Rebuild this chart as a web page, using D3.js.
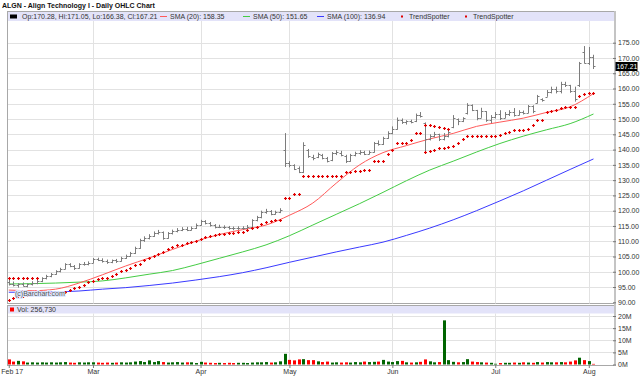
<!DOCTYPE html>
<html><head><meta charset="utf-8">
<script src="https://cdn.jsdelivr.net/npm/d3@7"></script>
<style>body{margin:0;background:#fff}svg{display:block}</style>
</head><body><svg id="c" width="640" height="389"></svg>
<script>
// ---------- DATA ----------
const tradingDays = [
 ["Feb",[2,3,6,7,8,9,10,13,14,15,16,17,21,22,23,24,27,28]],
 ["Mar",[1,2,3,6,7,8,9,10,13,14,15,16,17,20,21,22,23,24,27,28,29,30,31]],
 ["Apr",[3,4,5,6,7,10,11,12,13,17,18,19,20,21,24,25,26,27,28]],
 ["May",[1,2,3,4,5,8,9,10,11,12,15,16,17,18,19,22,23,24,25,26,30,31]],
 ["Jun",[1,2,5,6,7,8,9,12,13,14,15,16,19,20,21,22,23,26,27,28,29,30]],
 ["Jul",[3,5,6,7,10,11,12,13,14,17,18,19,20,21,24,25,26,27,28,31]],
 ["Aug",[1,2]]
];
const monthLabels = ["Feb 17","Mar","Apr","May","Jun","Jul","Aug"];

const opens = [96.5,96.0,95.6,95.9,95.5,96.0,96.4,96.9,97.9,98.6,99.3,100.2,101.0,102.4,101.9,101.1,102.5,102.6,102.9,104.1,
104.0,103.5,103.3,103.7,103.4,104.5,105.2,106.0,107.7,110.3,111.0,111.8,112.6,113.0,111.0,112.6,113.2,113.6,114.0,113.8,
114.2,115.3,116.5,116.0,115.2,114.6,114.8,114.6,114.3,114.2,114.2,114.4,114.8,116.8,117.8,119.5,119.8,119.0,119.5,140.0,
135.5,134.8,134.0,132.8,140.0,137.6,137.5,138.3,137.2,136.5,138.8,139.0,138.0,136.4,138.2,138.9,139.3,138.7,139.3,142.0,
141.8,143.8,145.5,146.8,149.8,149.0,149.2,149.3,151.3,148.7,143.5,144.4,145.0,143.4,144.5,147.4,150.0,149.2,151.9,154.5,
153.0,150.5,152.5,149.8,150.8,151.6,150.5,151.8,152.2,151.3,152.3,152.0,154.2,155.2,156.6,157.3,159.0,159.8,159.2,161.5,
161.0,159.2,161.0,172.0,168.5,170.28];
const highs = [97.8,96.8,96.3,96.5,96.2,96.9,97.3,98.2,99.0,99.6,100.5,101.3,102.8,102.8,102.2,102.8,103.2,103.4,104.5,104.6,
104.4,104.0,104.0,104.2,104.9,105.6,106.5,108.2,110.8,111.6,112.3,113.2,113.7,113.2,113.0,113.8,114.3,114.6,114.7,114.8,
115.8,117.0,116.9,116.3,115.6,115.4,115.2,115.0,114.8,114.9,114.9,115.3,117.2,118.3,120.0,120.6,120.2,120.0,120.8,145.4,
136.2,135.2,134.5,142.4,140.2,138.3,139.0,138.6,137.6,139.2,139.8,139.6,138.3,138.6,139.3,139.8,139.6,139.7,142.5,143.0,
144.2,146.0,147.6,150.5,150.2,149.6,149.8,151.8,152.3,148.9,145.0,145.8,145.2,145.4,146.2,151.3,150.2,150.6,155.2,154.8,
153.0,153.7,152.6,151.3,152.3,152.9,152.3,152.9,153.6,152.9,152.8,154.6,154.5,157.9,156.8,159.5,160.6,160.6,162.2,162.2,
161.2,160.6,168.7,173.9,173.6,171.05];
const lows = [95.5,95.2,94.8,95.2,94.9,95.5,95.9,96.6,97.5,98.2,99.0,99.8,100.8,101.5,100.6,101.0,102.0,102.1,102.8,103.5,
103.0,102.6,102.8,102.9,103.3,104.2,104.9,105.8,107.5,109.8,110.6,111.4,112.2,110.5,110.8,112.2,112.9,113.3,113.3,113.5,
114.0,115.1,115.5,114.8,114.2,114.3,114.0,113.8,113.6,113.7,113.8,114.1,114.6,116.5,117.5,119.0,118.5,118.7,119.2,134.3,
134.2,133.3,132.3,132.3,137.3,136.5,137.2,136.8,135.8,136.2,138.2,137.8,135.6,136.0,137.8,138.3,138.2,138.4,139.0,141.3,
141.5,143.5,145.0,146.5,148.4,148.2,148.6,149.0,150.5,139.2,143.0,144.0,142.8,143.0,144.0,147.0,148.0,149.0,151.5,152.6,
149.6,150.4,149.1,148.7,150.2,149.7,150.3,151.0,150.8,151.2,151.5,151.9,151.9,155.1,155.7,157.3,158.4,158.4,158.4,160.5,
158.6,155.7,160.5,168.2,167.7,166.38];
const closes = [96.0,95.6,95.9,95.5,96.0,96.4,96.9,97.9,98.6,99.3,100.2,101.0,102.4,101.9,101.1,102.5,102.6,102.9,104.1,104.0,
103.5,103.3,103.7,103.4,104.5,105.2,106.0,107.7,110.3,111.0,111.8,112.6,113.0,111.0,112.6,113.2,113.6,114.0,113.8,114.2,
115.3,116.5,116.0,115.2,114.6,114.8,114.6,114.3,114.2,114.2,114.4,114.8,116.8,117.8,119.5,119.8,119.0,119.5,120.1,135.5,
134.8,133.8,132.6,141.5,137.8,137.2,138.5,137.4,136.3,138.8,139.2,138.2,136.2,138.2,138.9,139.3,138.7,139.3,142.0,141.8,
143.8,145.5,146.8,149.8,149.0,149.2,149.0,151.3,151.0,143.5,144.4,145.0,143.4,144.4,145.7,150.3,149.2,150.2,154.5,153.0,
150.5,152.6,149.8,150.8,151.6,150.5,151.8,152.2,151.3,152.3,152.0,154.2,152.6,157.5,156.2,159.0,159.8,159.2,161.5,161.0,
159.2,156.5,168.5,168.3,170.3,167.21];

// volume in millions
const volumes = [2.1,1.2,1.5,1.3,0.8,0.9,0.8,0.9,0.8,0.9,0.8,0.9,1.0,0.8,0.7,0.9,0.8,0.9,0.9,0.8,
0.7,0.8,0.7,0.8,0.9,0.8,0.9,1.2,1.4,1.0,1.7,1.0,1.4,1.0,0.8,0.9,1.0,0.8,0.9,0.9,
0.6,1.1,0.8,0.7,0.6,0.7,0.6,0.7,0.6,0.7,0.7,0.6,0.8,0.9,0.9,1.0,0.8,0.9,1.3,4.4,
1.9,1.7,2.1,2.2,1.8,1.8,1.3,1.0,1.2,0.8,0.9,0.8,0.9,0.8,1.0,0.9,1.2,1.0,1.1,1.2,
1.9,1.2,1.0,1.4,1.5,0.9,0.8,0.9,1.1,2.1,1.3,0.9,1.0,18.2,1.8,1.1,0.9,1.0,2.2,1.2,
1.0,0.9,0.8,0.7,0.3,0.6,0.7,0.7,0.8,0.7,0.9,0.8,0.7,1.0,0.8,1.0,0.9,0.9,1.0,0.9,
1.2,1.7,2.8,1.8,1.4,0.26];

// moving averages, read every 5 sessions
const smaIndex = [0,5,10,15,20,25,30,35,40,45,50,55,60,65,70,75,80,85,90,95,100,105,110,115,120,125];
const sma20  = [94.0,93.8,94.3,96.3,99.0,101.9,104.5,107.3,110.0,112.2,113.8,115.3,118.5,122.5,129.0,135.0,139.0,141.3,143.5,145.3,147.6,149.0,150.3,152.2,154.0,158.35];
const sma50  = [96.0,96.1,96.3,96.6,97.0,98.0,99.2,100.4,102.3,104.4,106.5,108.8,111.8,115.3,118.8,122.3,126.0,129.8,133.3,136.2,139.2,142.0,144.4,146.5,148.5,151.65];
const sma100 = [93.3,93.3,93.4,93.7,94.3,94.8,95.5,96.3,97.3,98.4,99.7,101.3,103.1,104.8,106.5,108.1,109.7,111.9,114.3,117.0,120.0,123.2,126.5,130.0,133.5,136.94];

const N = null;
const trendA = [97.8,97.8,97.8,97.8,97.8,97.8,97.8,N,N,N,N,N,N,N,N,N,N,N,N,N,
N,N,N,N,N,N,N,N,N,N,N,N,N,N,N,N,N,N,N,N,
N,N,N,N,N,N,N,N,N,N,N,N,N,N,N,N,N,N,N,N,
N,N,N,N,N,N,N,N,N,N,N,N,N,N,N,N,N,N,N,N,
N,N,N,N,N,N,N,N,N,139.3,139.6,139.8,140.4,140.6,141.0,141.3,142.0,143.6,144.4,144.4,
144.4,144.4,144.4,144.4,144.4,144.8,145.3,145.8,146.4,146.4,146.4,146.6,148.0,149.7,149.7,152.4,152.6,152.9,153.7,153.8,
153.8,154.0,157.6,158.1,158.6,158.6];
const trendB = [90.9,91.4,91.9,92.2,92.5,92.7,92.9,93.0,93.1,93.2,93.2,93.3,93.4,94.0,94.6,95.0,95.8,96.6,97.1,97.6,
97.8,97.8,98.6,99.4,100.1,100.7,101.3,102.1,102.6,103.7,104.6,105.3,105.9,106.4,107.5,108.0,108.6,108.8,109.3,109.7,
110.2,110.8,111.3,111.7,112.0,112.2,112.4,112.6,112.8,113.0,113.0,113.7,114.2,114.6,115.5,116.3,116.6,116.9,117.1,124.0,
124.0,125.6,125.6,131.3,131.3,131.3,131.3,131.3,131.3,131.3,131.3,131.3,132.6,132.8,133.0,133.0,133.2,133.4,136.2,136.2,
136.4,138.6,140.0,142.0,142.0,142.2,143.3,145.3,145.3,148.2,148.0,147.7,147.4,147.1,146.8,N,N,N,N,N,
N,N,N,N,N,N,N,N,N,N,N,N,N,N,N,N,N,N,N,N,
N,N,N,N,N,N];

const priceTicks = [90,95,100,105,110,115,120,125,130,135,140,145,150,155,160,165,170,175];
const volTicks = [0,5,10,15,20];

const title = "ALGN - Align Technology I - Daily OHLC Chart";
const lastVolText = "Vol: 256,730";

// ---------- DRAW ----------
const FONT = "'Liberation Sans', Arial, Helvetica, sans-serif";
const FS = 7;
const svg = d3.select("#c");
let acc = 0;
const monthStart = tradingDays.map(([m, ds]) => { const s = acc; acc += ds.length; return s; });
const n = closes.length;

const x = d3.scaleLinear().domain([-0.38, 129.6]).range([7, 615]);
const yP = d3.scaleLinear().domain([90, 175]).range([302.3, 42.7]);
const yV = d3.scaleLinear().domain([0, 20]).range([364.5, 316]);
const L = 7.5, R = 615;

// title
svg.append("text").attr("x", 2).attr("y", 8).attr("font-family", FONT).attr("font-size", 7)
  .attr("font-weight", "bold").attr("fill", "#111").text(title);

// price panel
svg.append("rect").attr("x", L).attr("y", 11.5).attr("width", R - L).attr("height", 292)
  .attr("fill", "#fff").attr("stroke", "#a8a8a8");
svg.append("rect").attr("x", L + 0.5).attr("y", 12).attr("width", R - L - 1).attr("height", 9)
  .attr("fill", "#e3e3f9");
// volume panel
svg.append("rect").attr("x", L).attr("y", 305.5).attr("width", R - L).attr("height", 60)
  .attr("fill", "#fff").attr("stroke", "#a8a8a8");
svg.append("rect").attr("x", L + 0.5).attr("y", 306).attr("width", R - L - 1).attr("height", 7.5)
  .attr("fill", "#e3e3f9");

// grids
const grid = svg.append("g").attr("stroke", "#e2e2e2").attr("stroke-width", 1);
grid.selectAll(".hp").data(priceTicks.filter(t => t > 90)).join("line")
  .attr("x1", L + 0.5).attr("x2", R - 1).attr("y1", d => Math.round(yP(d)) + 0.5).attr("y2", d => Math.round(yP(d)) + 0.5);
grid.selectAll(".hv").data(volTicks.filter(t => t > 0)).join("line").attr("class", "hv")
  .attr("x1", L + 0.5).attr("x2", R - 1).attr("y1", d => Math.round(yV(d)) + 0.5).attr("y2", d => Math.round(yV(d)) + 0.5);
grid.selectAll(".vm").data(monthStart.slice(1)).join("line").attr("class", "vm")
  .attr("x1", d => Math.round(x(d)) + 0.5).attr("x2", d => Math.round(x(d)) + 0.5).attr("y1", 21).attr("y2", 303.5);
grid.selectAll(".vm2").data(monthStart.slice(1)).join("line").attr("class", "vm2")
  .attr("x1", d => Math.round(x(d)) + 0.5).attr("x2", d => Math.round(x(d)) + 0.5).attr("y1", 313.5).attr("y2", 365);

// SMA lines
const smaLine = d3.line().curve(d3.curveMonotoneX).x((d, i) => x(smaIndex[i])).y(d => yP(d));
[[sma100, "#3a3aff"], [sma50, "#44cc44"], [sma20, "#ff5a5a"]].forEach(([s, c]) => {
  svg.append("path").datum(s).attr("d", smaLine).attr("fill", "none").attr("stroke", c).attr("stroke-width", 1);
});

// OHLC bars
const bars = svg.append("g").attr("stroke", "#7c7c7c").attr("stroke-width", 1);
const idx = d3.range(n);
const bx = i => Math.round(x(i)) + 0.5;
bars.selectAll(".hl").data(idx).join("line")
  .attr("x1", bx).attr("x2", bx).attr("y1", i => yP(highs[i])).attr("y2", i => yP(lows[i]));
bars.selectAll(".op").data(idx).join("line").attr("class", "op")
  .attr("x1", i => bx(i) - 2).attr("x2", bx).attr("y1", i => Math.round(yP(opens[i])) + 0.5).attr("y2", i => Math.round(yP(opens[i])) + 0.5);
bars.selectAll(".cl").data(idx).join("line").attr("class", "cl")
  .attr("x1", bx).attr("x2", i => bx(i) + 2).attr("y1", i => Math.round(yP(closes[i])) + 0.5).attr("y2", i => Math.round(yP(closes[i])) + 0.5);

// TrendSpotter markers
const plus = "M-1.5,0H1.5M0,-1.5V1.5";
[trendA, trendB].forEach(ts => {
  svg.append("g").selectAll("path").data(idx.filter(i => ts[i] != null)).join("path")
    .attr("transform", i => `translate(${bx(i)},${Math.round(yP(ts[i])) + 0.5})`)
    .attr("d", plus).attr("stroke", "#e00000").attr("stroke-width", 1.2).attr("fill", "none");
});

// watermark
svg.append("text").attr("x", 15).attr("y", 296).attr("font-family", FONT).attr("font-size", FS)
  .attr("fill", "#555").attr("stroke", "#dfe8ff").attr("stroke-width", 2).attr("paint-order", "stroke")
  .text("(c)Barchart.com");

// volume bars
svg.append("g").selectAll("rect").data(idx).join("rect")
  .attr("x", i => Math.round(x(i)) - 1).attr("width", 3)
  .attr("y", i => yV(volumes[i])).attr("height", i => yV(0) - yV(volumes[i]))
  .attr("fill", i => (i === 0 ? closes[i] >= opens[i] : closes[i] >= closes[i - 1]) ? "#006400" : "#ff0000");

// right border
svg.append("line").attr("x1", 615).attr("x2", 615).attr("y1", 11).attr("y2", 366)
  .attr("stroke", "#c4c4c4").attr("stroke-width", 2);

// axes
function styleAxis(g) {
  g.select(".domain").remove();
  g.selectAll("text").attr("font-family", FONT).attr("font-size", FS).attr("fill", "#333");
  g.selectAll("line").attr("stroke", "#777");
}
svg.append("g").attr("transform", "translate(613,0)")
  .call(d3.axisRight(yP).tickValues(priceTicks).tickFormat(d3.format(".2f")).tickSize(3).tickPadding(2))
  .call(styleAxis);
svg.append("g").attr("transform", "translate(613,0)")
  .call(d3.axisRight(yV).tickValues(volTicks).tickFormat(d => d + "M").tickSize(3).tickPadding(2))
  .call(styleAxis);
svg.append("g").attr("transform", "translate(0,365)")
  .call(d3.axisBottom(x).tickValues(monthStart).tickFormat((d, i) => monthLabels[i]).tickSize(3).tickPadding(1))
  .call(styleAxis)
  .call(g => g.selectAll("text").filter((d, i) => i === 0).attr("text-anchor", "start").attr("x", -8));

// last price marker
const lastC = closes[n - 1];
svg.append("rect").attr("x", 615.5).attr("y", yP(lastC) - 4.5).attr("width", 22).attr("height", 9).attr("fill", "#000");
svg.append("text").attr("x", 616.5).attr("y", yP(lastC) + 2.5).attr("font-family", FONT).attr("font-size", 6.8)
  .attr("fill", "#fff").text(lastC.toFixed(2));

// legends
const lg = svg.append("g").attr("font-family", FONT).attr("font-size", FS).attr("fill", "#333");
lg.append("rect").attr("x", 10).attr("y", 14.5).attr("width", 7).attr("height", 4).attr("fill", "#000");
lg.append("text").attr("x", 22).attr("y", 19).text(`Op:${opens[n-1].toFixed(2)}, Hi:${highs[n-1].toFixed(2)}, Lo:${lows[n-1].toFixed(2)}, Cl:${closes[n-1].toFixed(2)}`);
const lineItems = [
  {x: 160, c: "#ff5a5a", t: `SMA (20): ${sma20[sma20.length-1].toFixed(2)}`},
  {x: 243, c: "#44cc44", t: `SMA (50): ${sma50[sma50.length-1].toFixed(2)}`},
  {x: 317, c: "#3a3aff", t: `SMA (100): ${sma100[sma100.length-1].toFixed(2)}`}
];
lineItems.forEach(it => {
  lg.append("line").attr("x1", it.x).attr("x2", it.x + 7).attr("y1", 16.5).attr("y2", 16.5).attr("stroke", it.c);
  lg.append("text").attr("x", it.x + 10).attr("y", 19).text(it.t);
});
[402, 466].forEach(px => {
  lg.append("rect").attr("x", px - 1).attr("y", 15.5).attr("width", 2).attr("height", 2).attr("fill", "#e00000");
  lg.append("text").attr("x", px + 7).attr("y", 19).text("TrendSpotter");
});
lg.append("rect").attr("x", 10).attr("y", 307.5).attr("width", 4).attr("height", 4).attr("fill", "#ff0000");
lg.append("text").attr("x", 17).attr("y", 312).text(lastVolText);
</script>
</body></html>
